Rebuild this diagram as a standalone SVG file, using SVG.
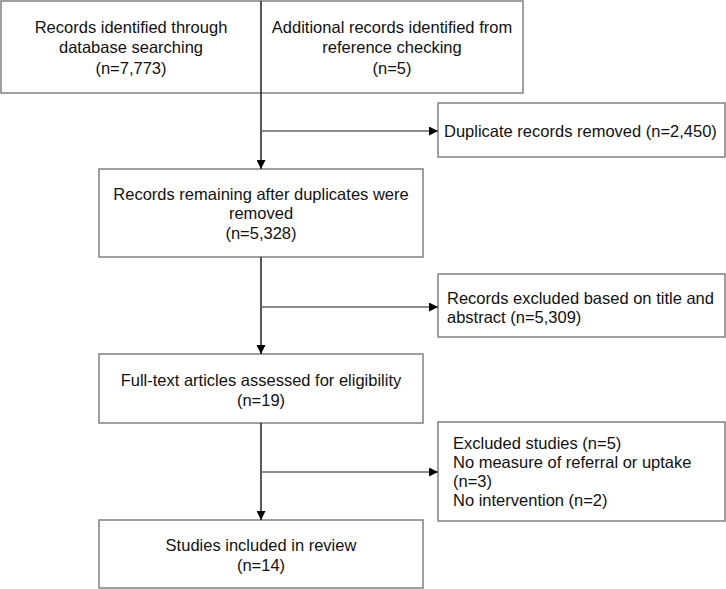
<svg xmlns="http://www.w3.org/2000/svg" width="726" height="589" viewBox="0 0 726 589">
<style>
.box{fill:#fff;stroke:#808080;stroke-width:1.5}
.t{font-family:"Liberation Sans",Arial,sans-serif;font-size:16.5px;fill:#111}
.c{text-anchor:middle}
.v{stroke:#222;stroke-width:1.5;fill:none}
.h{stroke:#666;stroke-width:1.5;fill:none}
</style>
<defs>
<marker id="ah" viewBox="0 0 10 10" refX="10" refY="5" markerWidth="9" markerHeight="9" markerUnits="userSpaceOnUse" orient="auto">
<path d="M0,0 L10,5 L0,10 Z" fill="#000"/>
</marker>
</defs>
<rect width="726" height="589" fill="#fff"/>
<g id="identified">
<rect class="box" x="1" y="1" width="522" height="92"/>
<text class="t c" x="131" y="33">Records identified through</text>
<text class="t c" x="131" y="53">database searching</text>
<text class="t c" x="131" y="74">(n=7,773)</text>
</g>
<g id="additional">
<text class="t c" x="392" y="33">Additional records identified from</text>
<text class="t c" x="392" y="53">reference checking</text>
<text class="t c" x="392" y="74">(n=5)</text>
</g>
<g id="duplicates">
<rect class="box" x="438" y="103" width="287" height="54"/>
<text class="t" x="444" y="137">Duplicate records removed (n=2,450)</text>
</g>
<g id="remaining">
<rect class="box" x="99" y="169" width="324" height="88"/>
<text class="t c" x="261" y="200">Records remaining after duplicates were</text>
<text class="t c" x="261" y="219">removed</text>
<text class="t c" x="261" y="239">(n=5,328)</text>
</g>
<g id="excluded-title">
<rect class="box" x="438" y="274" width="287" height="63"/>
<text class="t" x="447" y="304">Records excluded based on title and</text>
<text class="t" x="447" y="323">abstract (n=5,309)</text>
</g>
<g id="fulltext">
<rect class="box" x="99" y="354" width="324" height="69"/>
<text class="t c" x="261" y="386">Full-text articles assessed for eligibility</text>
<text class="t c" x="261" y="406">(n=19)</text>
</g>
<g id="excluded-studies">
<rect class="box" x="438" y="422" width="287" height="99"/>
<text class="t" x="453" y="449">Excluded studies (n=5)</text>
<text class="t" x="453" y="468">No measure of referral or uptake</text>
<text class="t" x="453" y="487">(n=3)</text>
<text class="t" x="453" y="506">No intervention (n=2)</text>
</g>
<g id="included">
<rect class="box" x="99" y="520" width="324" height="68"/>
<text class="t c" x="261" y="551">Studies included in review</text>
<text class="t c" x="261" y="571">(n=14)</text>
</g>
<g id="connectors">
<line class="v" x1="261" y1="1" x2="261" y2="93"/>
<line class="v" x1="261" y1="93" x2="261" y2="169" marker-end="url(#ah)"/>
<line class="h" x1="261" y1="131" x2="438" y2="131" marker-end="url(#ah)"/>
<line class="v" x1="261" y1="257" x2="261" y2="354" marker-end="url(#ah)"/>
<line class="h" x1="261" y1="307" x2="438" y2="307" marker-end="url(#ah)"/>
<line class="v" x1="261" y1="423" x2="261" y2="520" marker-end="url(#ah)"/>
<line class="h" x1="261" y1="472" x2="438" y2="472" marker-end="url(#ah)"/>
</g>
</svg>
